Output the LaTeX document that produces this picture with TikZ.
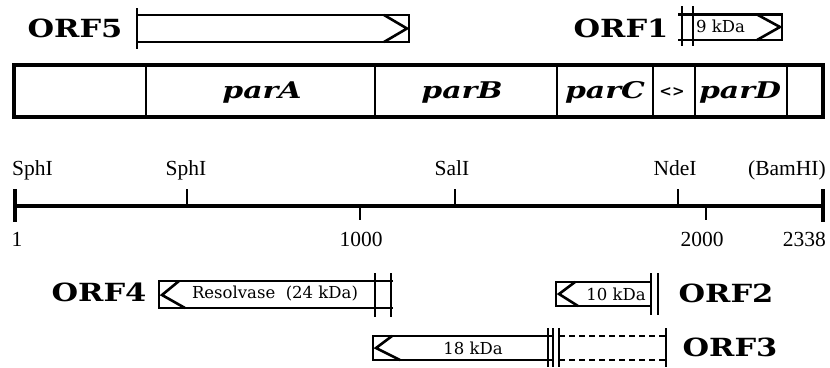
\documentclass[tikz,border=0pt]{standalone}
\usepackage{fontspec}
\usepackage{graphicx}
\newfontfamily\dvs{DejaVu Serif}
\newfontfamily\tms{Liberation Serif}
\newcommand{\orflabel}[1]{\scalebox{1.22}[1]{\dvs\bfseries\fontsize{25}{25}\selectfont #1}}
\newcommand{\genelabel}[1]{\scalebox{1.3}[1]{\dvs\bfseries\itshape\fontsize{23}{23}\selectfont #1}}
\tikzset{
  orfname/.style={inner sep=0pt, font=\relax},
  genename/.style={inner sep=0pt, anchor=base},
  sitelabel/.style={inner sep=0pt, anchor=base, font=\tms\fontsize{21.5}{21.5}\selectfont},
  protlabel/.style={inner sep=0pt, font=\dvs\fontsize{16.5}{16.5}\selectfont},
  thick box/.style={line width=3.4pt},
  divider/.style={line width=2pt},
  orfbox/.style={line width=2.8pt},
  bar/.style={line width=2.2pt},
  ruler/.style={line width=3.2pt},
  endtick/.style={line width=4.4pt},
  sitetick/.style={line width=2.2pt},
  chev/.style={line width=2.6pt, line join=miter},
  dashline/.style={line width=2pt, dash pattern=on 6pt off 4pt},
}
\begin{document}
\begin{tikzpicture}[x=1pt,y=-1pt]
\useasboundingbox (0,0) rectangle (830,367);

% ---------- ORF5 (rightward) ----------
\node[orfname] (orf5) at (75,28) {\orflabel{ORF5}};
\draw[orfbox] (137,15) rectangle (409,42);
\draw[bar] (137,8) -- (137,49);
\draw[chev] (384,15) -- (407,28.5) -- (384,42);

% ---------- ORF1 (rightward) ----------
\node[orfname] (orf1) at (621,28) {\orflabel{ORF1}};
\draw[orfbox] (678,14.5) -- (782,14.5) -- (782,40) -- (678,40);
\draw[bar] (682,6) -- (682,46);
\draw[bar] (693,6) -- (693,46);
\draw[chev] (757,14.5) -- (780,27) -- (757,40);
\node[protlabel, anchor=west] (p9) at (696,26) {9 kDa};

% ---------- par region ----------
\draw[thick box] (14,65) rectangle (823,117);
\foreach \x in {146,375,557,653,695,787}
  \draw[divider] (\x,65) -- (\x,117);
\node[genename] (parA) at (262,98) {\genelabel{parA}};
\node[genename] (parB) at (462,98) {\genelabel{parB}};
\node[genename] (parC) at (605,98) {\genelabel{parC}};
\node[genename] (arr)  at (672,96) {\dvs\bfseries\fontsize{15}{15}\selectfont <>};
\node[genename] (parD) at (740,98) {\genelabel{parD}};

% ---------- map scale ----------
\draw[ruler] (15,206) -- (823,206);
\draw[endtick] (15,189) -- (15,222);
\draw[endtick] (823,189) -- (823,222);
\foreach \x in {187,455,678}
  \draw[sitetick] (\x,189) -- (\x,206);
\foreach \x in {360,706}
  \draw[sitetick] (\x,206) -- (\x,220);

\node[sitelabel, anchor=base west] (s1) at (12,175) {SphI};
\node[sitelabel] (s2) at (186,175) {SphI};
\node[sitelabel] (s3) at (452,175) {SalI};
\node[sitelabel] (s4) at (675,175) {NdeI};
\node[sitelabel, anchor=base east] (s5) at (826,175) {(BamHI)};

\node[sitelabel] (n1) at (17,246) {1};
\node[sitelabel] (n2) at (361,246) {1000};
\node[sitelabel] (n3) at (702,246) {2000};
\node[sitelabel, anchor=base east] (n4) at (826,246) {2338};

% ---------- ORF4 (leftward) ----------
\node[orfname] (orf4) at (99,292) {\orflabel{ORF4}};
\draw[orfbox] (393,281) -- (159,281) -- (159,308) -- (393,308);
\draw[bar] (375,273) -- (375,317);
\draw[bar] (391,273) -- (391,317);
\draw[chev] (179,281) -- (162,295) -- (185,308);
\node[protlabel] (res) at (275,294) {Resolvase\ \ (24 kDa)};

% ---------- ORF2 (leftward) ----------
\node[orfname] (orf2) at (726,293) {\orflabel{ORF2}};
\draw[orfbox] (651,282) -- (556,282) -- (556,306) -- (651,306);
\draw[bar] (651,273) -- (651,315);
\draw[bar] (658,273) -- (658,315);
\draw[chev] (575,282) -- (559,294) -- (578,306);
\node[protlabel] (p10) at (616,294) {10 kDa};

% ---------- ORF3 (leftward, with dashed extension) ----------
\node[orfname] (orf3) at (730,347) {\orflabel{ORF3}};
\draw[orfbox] (553,336) -- (373,336) -- (373,360) -- (553,360);
\draw[bar] (548,328) -- (548,367);
\draw[bar] (553,328) -- (553,367);
\draw[bar] (559,328) -- (559,367);
\draw[dashline] (559,336) -- (666,336);
\draw[dashline] (559,360) -- (666,360);
\draw[bar] (666,328) -- (666,367);
\draw[chev] (392,336) -- (376,348) -- (400,360);
\node[protlabel] (p18) at (473,348) {18 kDa};
\end{tikzpicture}
\end{document}
